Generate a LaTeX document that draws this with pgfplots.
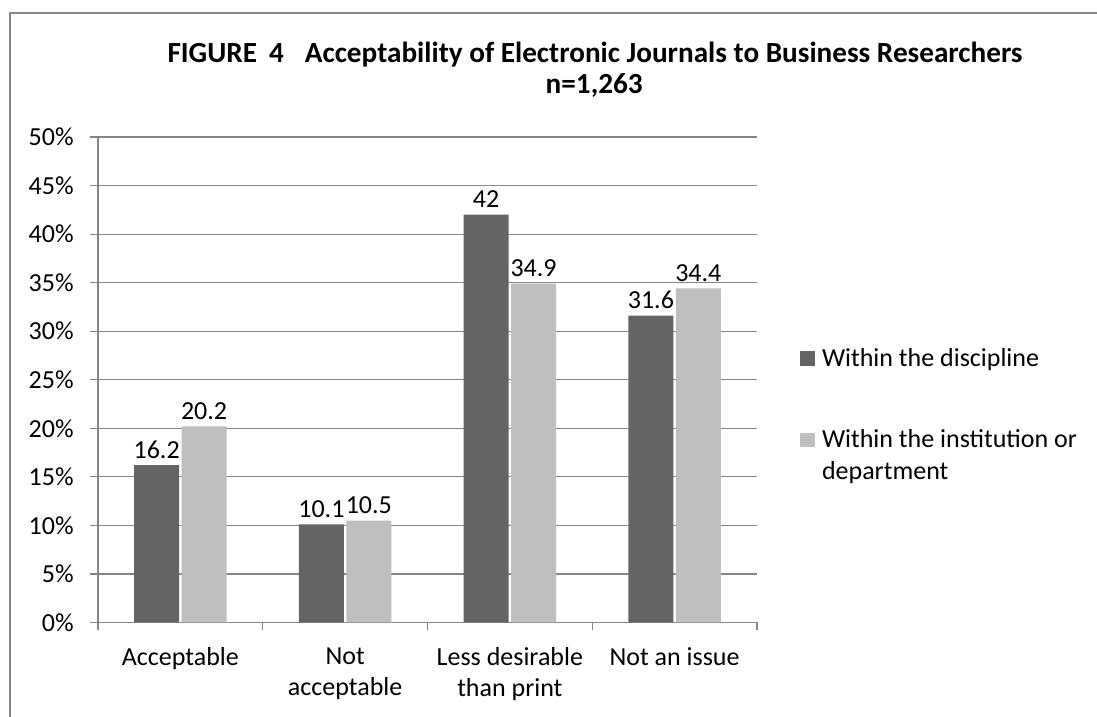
\documentclass[border=0pt]{standalone}
\usepackage{pgfplots}
\pgfplotsset{compat=1.18}
\usepackage{fontspec}
\setmainfont{Carlito}
\definecolor{darkbar}{HTML}{646464}
\definecolor{lightbar}{HTML}{BFBFBF}
\definecolor{gridc}{HTML}{868686}
\pgfplotsset{sqlegend/.style={legend image code/.code={\fill[##1,draw=none] (0pt,0pt) rectangle (7.5pt,7.5pt);}},
  sqlegendup/.style={legend image code/.code={\fill[##1,draw=none] (0pt,16pt) rectangle (7.5pt,23pt);}}}
\newcommand{\lbl}{\fontsize{13}{15.5}\selectfont}
\begin{document}
\begin{tikzpicture}
\useasboundingbox (0,0) rectangle (548.5pt,358.5pt);
\draw[gridc, line width=1pt] (5pt,0) -- (5pt,352pt) -- (548.5pt,352pt);
\node[font=\fontsize{14.6}{17}\selectfont\bfseries, anchor=base, inner sep=0pt] at (297.5pt,327.15pt) {FIGURE\hspace{6pt}4\hspace{10.5pt}Acceptability of Electronic Journals to Business Researchers};
\node[font=\fontsize{14.6}{17}\selectfont\bfseries, anchor=base, inner sep=0pt] at (297.1pt,311.85pt) {n=1,263};
\begin{axis}[
  at={(49pt,47.25pt)}, anchor=south west,
  scale only axis, width=329.5pt, height=242.75pt,
  xmin=-0.5, xmax=3.5, ymin=0, ymax=50,
  ybar,
  ytick={0,5,...,50},
  yticklabels={0\%,5\%,10\%,15\%,20\%,25\%,30\%,35\%,40\%,45\%,50\%},
  /pgf/number format/assume math mode=true,
  ymajorgrids, grid style={gridc, line width=0.6pt},
  axis x line*=bottom, axis y line*=left,
  axis line style={gridc, line width=0.6pt, -},
  tick align=outside, major tick length=4pt,
  tick style={gridc, line width=0.6pt},
  xtick={-0.5,0.5,1.5,2.5,3.5}, xticklabels={},
  extra x ticks={0,1,2,3},
  extra x tick labels={Acceptable, Not\\acceptable, Less desirable\\than print, Not an issue},
  extra x tick style={major tick length=0pt, tick style={draw=none}},
  xticklabel style={align=center, font=\lbl, anchor=north, inner sep=0pt, yshift=-12.3pt},
  yticklabel style={font=\lbl, anchor=east, inner sep=0pt, xshift=-8pt},
  nodes near coords,
  every node near coord/.append style={font=\lbl, anchor=base, inner sep=0pt, yshift=3.5pt, text=black},
  legend style={at={(1.0653,0.565)}, anchor=north west, draw=none, fill=none, inner sep=0pt, outer sep=0pt,
    font=\fontsize{13}{16}\selectfont, row sep=30.1pt, column sep=3.5pt,
    nodes={inner sep=0pt, anchor=base west, align=left}},
  legend cell align=left,
]
\addplot[ybar, fill=darkbar, draw=none, bar width=0.273, bar shift=-0.144, sqlegend] coordinates {(0,16.2) (1,10.1) (2,42) (3,31.6)};
\addlegendentry{Within the discipline}
\addplot[ybar, fill=lightbar, draw=none, bar width=0.273, bar shift=0.144, sqlegendup] coordinates {(0,20.2) (1,10.5) (2,34.9) (3,34.4)};
\addlegendentry{Within the institution or\\department}
\end{axis}
\end{tikzpicture}
\end{document}
